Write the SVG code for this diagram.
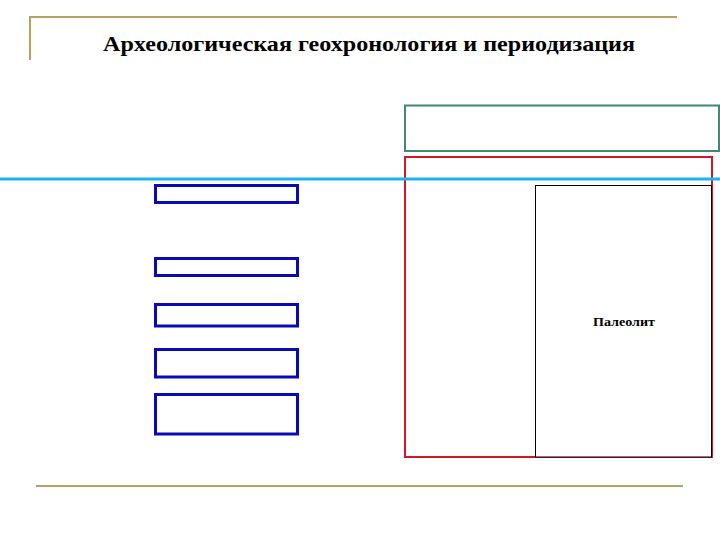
<svg xmlns="http://www.w3.org/2000/svg" width="720" height="540" viewBox="0 0 720 540">
<style>
.gold{stroke:#b8a060;stroke-width:2;fill:none}
.blue{fill:none;stroke:#0a0ab4;stroke-width:3}
.t{font-family:"Liberation Serif",serif;font-weight:bold;fill:#000}
</style>
<rect width="720" height="540" fill="#fff"/>
<line class="gold" x1="30" y1="17" x2="677" y2="17"/>
<line class="gold" x1="30" y1="16" x2="30" y2="60"/>
<line class="gold" x1="36" y1="486" x2="683" y2="486"/>
<text class="t" x="103" y="51" font-size="22" textLength="532" lengthAdjust="spacingAndGlyphs">Археологическая геохронология и периодизация</text>
<g id="green"><rect x="405" y="105.5" width="314" height="45.5" fill="none" stroke="#3f8a70" stroke-width="2"/></g>
<g id="red"><rect x="405" y="157" width="307" height="300" fill="none" stroke="#d81428" stroke-width="2"/></g>
<g id="paleolit"><rect x="535.5" y="185.5" width="176" height="271.5" fill="#fff" stroke="#000" stroke-width="1"/>
<text class="t" x="593" y="326" font-size="12" textLength="62" lengthAdjust="spacingAndGlyphs">Палеолит</text></g>
<line x1="0" y1="179" x2="720" y2="179" stroke="#1ab4f0" stroke-width="3"/>
<g id="b1"><rect class="blue" x="155.5" y="185.5" width="142" height="17"/></g>
<g id="b2"><rect class="blue" x="155.5" y="258.5" width="142" height="17"/></g>
<g id="b3"><rect class="blue" x="155.5" y="304.5" width="142" height="21.5"/></g>
<g id="b4"><rect class="blue" x="155.5" y="349.5" width="142" height="27.5"/></g>
<g id="b5"><rect class="blue" x="155.5" y="394.5" width="142" height="39.5"/></g>
</svg>
